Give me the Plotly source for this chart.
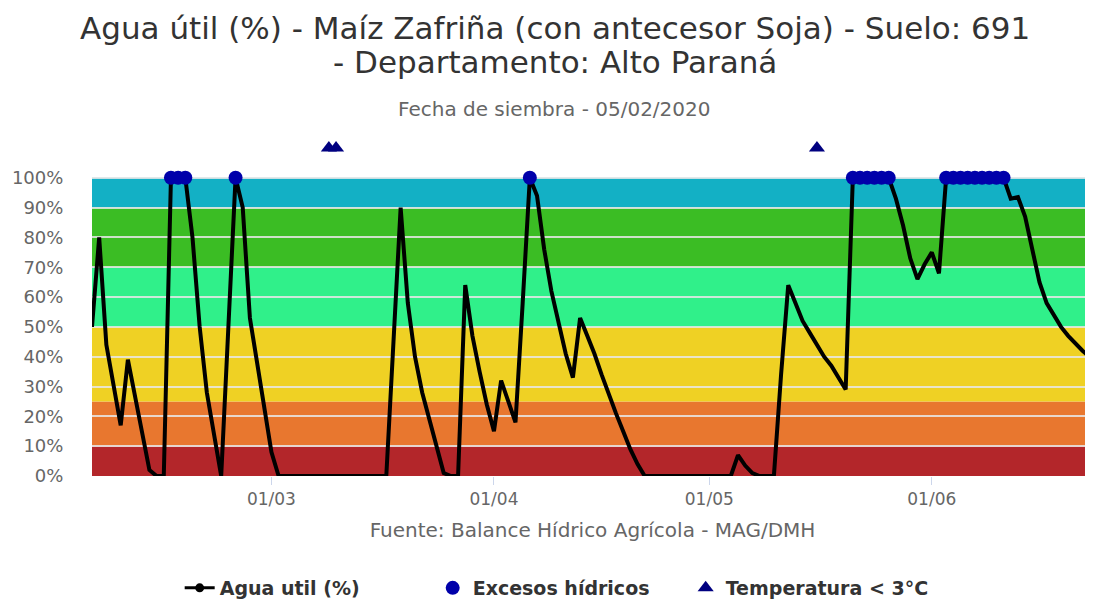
import pandas as pd
import plotly.graph_objects as go

# ---- data ----
start_date = "2020-02-05"
feb = [50, 80, 44, 30, 17, 39, 27, 14, 2, 0, 0, 100, 100, 100, 80, 50, 28, 13, 0, 50, 100, 90, 53, 38, 22]
mar = [8, 0, 0, 0, 0, 0, 0, 0, 0, 0, 0, 0, 0, 0, 0, 0, 0, 45, 90, 58, 40, 28, 19, 10, 1, 0, 0, 64, 47, 35, 24]
apr = [15, 32, 25, 18, 58, 100, 94, 76, 62, 51, 41, 33, 53, 47, 41, 34, 27, 21, 15, 9, 4, 0, 0, 0, 0, 0, 0, 0, 0, 0]
may = [0, 0, 0, 0, 7, 3.5, 1, 0, 0, 0, 34, 64, 58, 52, 48, 44, 40, 37, 33, 29,
       100, 100, 100, 100, 100, 100, 93, 84, 73, 66, 71]
jun = [75, 68, 100, 100, 100, 100, 100, 100, 100, 100, 100, 93, 93.5, 87, 76, 65, 58, 54, 50, 47, 44.5, 42, 40, 37.5]
agua_util = feb + mar + apr + may + jun

excesos_dates = ["2020-02-16", "2020-02-17", "2020-02-18", "2020-02-25", "2020-04-06",
                 "2020-05-21", "2020-05-22", "2020-05-23", "2020-05-24", "2020-05-25", "2020-05-26",
                 "2020-06-03", "2020-06-04", "2020-06-05", "2020-06-06", "2020-06-07", "2020-06-08",
                 "2020-06-09", "2020-06-10", "2020-06-11"]
excesos_values = [100] * len(excesos_dates)

temp_dates = ["2020-03-09", "2020-03-10", "2020-05-16"]
temp_values = [110, 110, 110]

band_low = [0, 10, 25, 50, 70, 90]
band_high = [10, 25, 50, 70, 90, 100]
band_colors = ["#B3262A", "#E8772F", "#EFD124", "#30F08A", "#3BBD24", "#13B0C5"]

tick_dates = ["2020-03-01", "2020-04-01", "2020-05-01", "2020-06-01"]
tick_labels = ["01/03", "01/04", "01/05", "01/06"]
y_ticks = [0, 10, 20, 30, 40, 50, 60, 70, 80, 90, 100, 111]
y_labels = ["0%", "10%", "20%", "30%", "40%", "50%", "60%", "70%", "80%", "90%", "100%", ""]

title_lines = ["Agua útil (%) - Maíz Zafriña (con antecesor Soja) - Suelo: 691",
               "- Departamento: Alto Paraná"]
subtitle = "Fecha de siembra - 05/02/2020"
caption = "Fuente: Balance Hídrico Agrícola - MAG/DMH"

dates = pd.date_range(start_date, periods=len(agua_util), freq="D")

fig = go.Figure()

# real line
fig.add_trace(go.Scatter(
    x=dates, y=agua_util, mode="lines", line=dict(color="black", width=4),
    showlegend=False, legendgroup="agua", name="Agua util (%)"))
# legend entry for the line (line + marker icon)
fig.add_trace(go.Scatter(
    x=[None], y=[None], mode="lines+markers", name="Agua util (%)", legendgroup="agua",
    line=dict(color="black", width=3), marker=dict(symbol="circle", size=9, color="black")))
fig.add_trace(go.Scatter(
    x=excesos_dates, y=excesos_values, mode="markers", name="Excesos hídricos",
    marker=dict(symbol="circle", size=14, color="#0000AA"), cliponaxis=False))
fig.add_trace(go.Scatter(
    x=temp_dates, y=temp_values, mode="markers", name="Temperatura < 3°C",
    marker=dict(symbol="triangle-up", size=14, color="#000080"), cliponaxis=False))

for lo, hi, col in zip(band_low, band_high, band_colors):
    fig.add_shape(type="rect", xref="paper", yref="y", x0=0, x1=1, y0=lo, y1=hi,
                  fillcolor=col, line=dict(width=0), layer="below")

annotations = [
    dict(text=title_lines[0], xref="paper", yref="paper", x=0.4625, y=1.3535,
         xanchor="center", yanchor="middle", showarrow=False,
         font=dict(family="DejaVu Sans", size=31, color="#333333")),
    dict(text=title_lines[1], xref="paper", yref="paper", x=0.4625, y=1.2508,
         xanchor="center", yanchor="middle", showarrow=False,
         font=dict(family="DejaVu Sans", size=31, color="#333333")),
    dict(text=subtitle, xref="paper", yref="paper", x=0.4625, y=1.109,
         xanchor="center", yanchor="middle", showarrow=False,
         font=dict(family="DejaVu Sans", size=20, color="#666666")),
]

fig.update_layout(
    width=1085, height=599,
    margin=dict(l=84, r=0, t=137, b=131),
    paper_bgcolor="white", plot_bgcolor="white",
    font=dict(family="DejaVu Sans", color="#333333"),
    legend=dict(orientation="h", x=0.508, xanchor="center", xref="container",
                y=-0.02, yanchor="bottom", yref="container",
                font=dict(family="DejaVu Sans", size=19, color="#333333", weight="bold"),
                entrywidth=208, entrywidthmode="pixels", traceorder="normal"),
    annotations=annotations,
    xaxis=dict(type="date", range=["2020-02-05", "2020-06-23 11:00"],
               tickvals=tick_dates, ticktext=tick_labels,
               ticks="outside", ticklen=8, tickcolor="#ccd6eb", tickwidth=1,
               showgrid=False, zeroline=False, showline=False,
               tickfont=dict(family="DejaVu Sans", size=17, color="#666666"),
               title=dict(text=caption, standoff=14,
                          font=dict(family="DejaVu Sans", size=20, color="#666666"))),
    yaxis=dict(range=[0, 111], tickvals=y_ticks, ticktext=y_labels,
               showgrid=True, gridcolor="rgba(232,232,232,0.85)", gridwidth=1.5,
               zeroline=False, showline=False,
               ticks="outside", ticklen=24, tickcolor="rgba(0,0,0,0)",
               tickfont=dict(family="DejaVu Sans", size=18, color="#666666")),
)

fig.write_html("out.html")
